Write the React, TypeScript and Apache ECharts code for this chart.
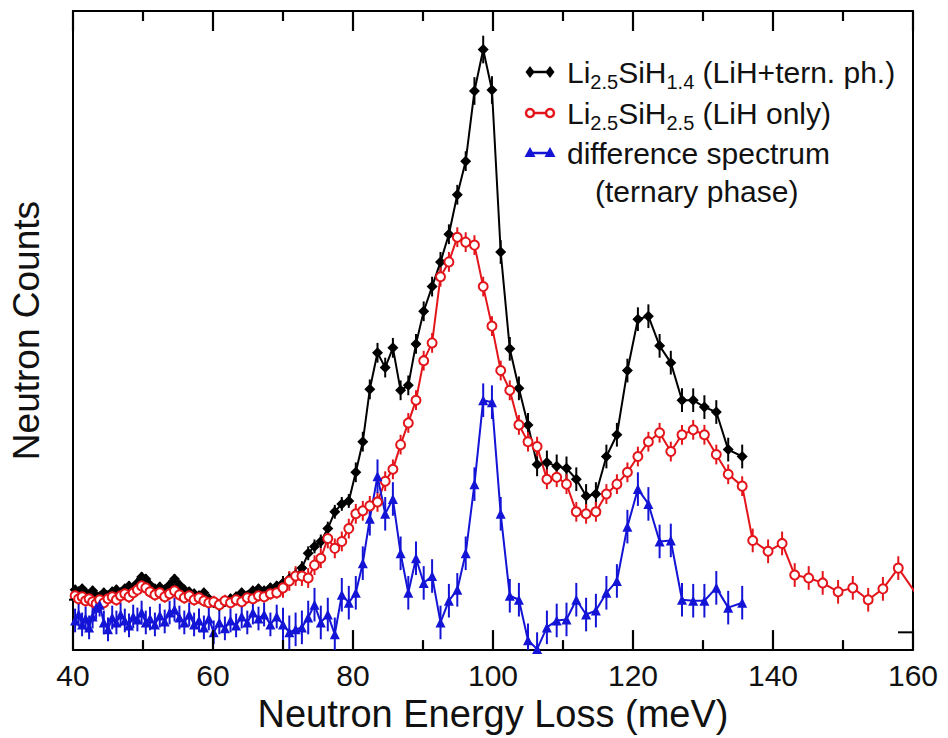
import React, { useEffect, useRef } from "react";
import * as echarts from "echarts";

// Energy transfer (meV) of each measured point
const energy = [
  40.3, 40.8, 41.3, 41.8, 42.3, 42.8, 43.3, 43.8, 44.4, 45.0,
  45.6, 46.2, 46.8, 47.4, 48.0, 48.6, 49.2, 49.8, 50.4, 51.0,
  51.7, 52.4, 53.1, 53.8, 54.5, 55.2, 55.9, 56.6, 57.3, 58.0,
  58.7, 59.4, 60.1, 60.9, 61.7, 62.5, 63.3, 64.1, 64.9, 65.7,
  66.5, 67.3, 68.2, 69.1, 70.0, 70.9, 71.8, 72.7, 73.6, 74.5,
  75.4, 76.4, 77.4, 78.4, 79.4, 80.4, 81.4, 82.4, 83.5, 84.6,
  85.7, 86.8, 87.9, 89.0, 90.1, 91.3, 92.5, 93.7, 94.9, 96.1,
  97.35, 98.6, 99.85, 101.1, 102.4, 103.7, 105.0, 106.3, 107.7, 109.1,
  110.5, 111.9, 113.3, 114.7, 116.2, 117.7, 119.2, 120.7, 122.2, 123.8,
  125.4, 127.0, 128.6, 130.2, 131.9, 133.6, 135.6,
  137.1, 139.3, 141.3, 143.1, 145.1, 147.1, 149.3, 151.4, 153.6, 155.7, 157.9, 162.0,
];

// Li2.5SiH1.4 (LiH + ternary phase)
const countsTernary = [
  43, 41, 44, 40, 38, 42, 37, 36, 40, 37,
  41, 43, 40, 44, 47, 45, 50, 56, 54, 48,
  44, 46, 43, 48, 54, 48, 43, 41, 39, 37,
  40, 34, 30, 27, 31, 34, 36, 40, 37, 42,
  44, 42, 45, 47, 50, 54, 58, 65, 80, 87,
  92, 105, 122, 130, 133, 162, 193, 246, 283, 268,
  288, 245, 250, 292, 325, 350, 375, 403, 443, 477,
  548, 590, 549, 385, 287, 247, 210, 170, 172, 168,
  166, 155, 138, 140, 178, 200, 265, 317, 320, 290,
  273, 235, 235, 228, 223, 185, 178,
];
const errTernary = [
  5, 5, 5, 5, 5, 5, 5, 5, 5, 5,
  5, 5, 5, 5, 5, 5, 5, 5, 5, 5,
  5, 5, 5, 5, 5, 5, 5, 5, 5, 5,
  5, 5, 5, 5, 5, 5, 5, 5, 5, 5,
  5, 5, 5, 5, 7, 7, 7, 7, 7, 7,
  7, 7, 7, 7, 7, 10, 10, 10, 10, 10,
  10, 10, 10, 10, 10, 10, 10, 10, 10, 10,
  14, 14, 14, 12, 12, 12, 12, 12, 12, 12,
  12, 12, 12, 12, 12, 12, 12, 12, 12, 12,
  12, 12, 12, 12, 12, 12, 12,
];

// Li2.5SiH2.5 (LiH only)
const countsLiH = [
  37, 34, 36, 32, 34, 31, 29, 33, 30, 34,
  36, 33, 37, 39, 36, 40, 43, 47, 45, 41,
  38, 40, 36, 39, 42, 38, 35, 37, 33, 35,
  32, 30, 31, 28, 32, 30, 33, 31, 35, 34,
  37, 36, 39, 40, 45, 52, 57, 57, 55, 68,
  75, 95, 85, 92, 105, 120, 123, 128, 132, 153,
  165, 190, 212, 235, 275, 293, 360, 375, 400, 395,
  392, 350, 310, 265, 245, 210, 193, 188, 155, 157,
  150, 122, 120, 122, 140, 150, 162, 178, 193, 202,
  183, 200, 205, 200, 180, 160, 148,
  93, 82, 90, 58, 55, 50, 41, 45, 33, 44, 65, 23,
];
const errLiH = [
  6, 6, 6, 6, 6, 6, 6, 6, 6, 6,
  6, 6, 6, 6, 6, 6, 6, 6, 6, 6,
  6, 6, 6, 6, 6, 6, 6, 6, 6, 6,
  6, 6, 6, 6, 6, 6, 6, 6, 6, 6,
  6, 6, 6, 6, 10, 10, 10, 10, 10, 10,
  10, 10, 10, 10, 10, 10, 10, 10, 10, 10,
  10, 10, 10, 10, 10, 10, 10, 10, 10, 10,
  10, 10, 10, 10, 10, 10, 10, 10, 10, 10,
  10, 10, 10, 10, 10, 10, 10, 10, 10, 10,
  10, 10, 10, 10, 10, 10, 10,
  12, 12, 12, 12, 12, 12, 12, 12, 12, 12, 12, 12,
];

// difference spectrum (ternary phase)
const countsDiff = [
  12, 18, 8, 14, 5, 16, 25, 28, 10, 3,
  15, 10, 18, 12, 7, 16, 13, 20, 10, 14,
  8, 17, 11, 20, 23, 15, 10, 18, 8, 12,
  5, 14, 0, 10, 4, 12, 7, 16, 10, 20,
  14, 18, 8, 16, 8, 0, 3, 5, 15, 28,
  10, 18, -2, 38, 30, 40, 70, 115, 158, 120,
  135, 80, 40, 75, 50, 57, 10, 32, 43, 80,
  150, 235, 233, 120, 37, 33, -8, -17, 5, 12,
  13, 33, 18, 22, 40, 52, 107, 145, 130, 92,
  93, 33, 32, 32, 45, 25, 30,
];
const errDiff = [
  12, 12, 12, 12, 12, 12, 12, 12, 12, 12,
  12, 12, 12, 12, 12, 12, 12, 12, 12, 12,
  12, 12, 12, 12, 12, 12, 12, 12, 12, 12,
  12, 12, 12, 12, 12, 12, 12, 12, 12, 12,
  12, 12, 12, 12, 17, 17, 17, 17, 17, 17,
  17, 17, 17, 17, 17, 17, 17, 17, 17, 17,
  17, 17, 17, 17, 17, 17, 17, 17, 17, 17,
  17, 17, 17, 17, 17, 17, 17, 17, 17, 17,
  17, 17, 17, 17, 17, 17, 17, 17, 17, 17,
  17, 17, 17, 17, 17, 17, 17,
];

const xTicks = [40, 60, 80, 100, 120, 140, 160];
const xMinorTicks = [50, 70, 90, 110, 130, 150];
const yRightTicks = [0];
const yLeftTicks = [33];
const X_MIN = 40;
const X_MAX = 160;
const Y_MIN = -18;
const Y_MAX = 629;

const FONT = "'Liberation Sans', Arial, Helvetica, sans-serif";
const BLACK = "#000000";
const RED = "#e3151a";
const BLUE = "#1414d6";

function errSeries(values: number[], errs: number[], color: string) {
  return {
    type: "custom",
    clip: true,
    silent: true,
    data: values.map((v, i) => [energy[i], v, errs[i]]),
    renderItem: (_p: any, api: any) => {
      const x = api.value(0);
      const y = api.value(1);
      const e = api.value(2);
      const a = api.coord([x, y - e]);
      const b = api.coord([x, y + e]);
      return {
        type: "line",
        shape: { x1: a[0], y1: a[1], x2: b[0], y2: b[1] },
        style: { stroke: color, lineWidth: 2 },
      };
    },
  };
}

// inward vertical ticks on one frame edge (edge = Y_MIN bottom, Y_MAX top), placed by the x scale
function xTickSeries(ticks: number[], edge: number, dy: number) {
  return {
    type: "custom",
    clip: false,
    silent: true,
    z: 5,
    data: ticks.map((t) => [t, edge]),
    renderItem: (_p: any, api: any) => {
      const p = api.coord([api.value(0), api.value(1)]);
      return {
        type: "line",
        shape: { x1: p[0], y1: p[1], x2: p[0], y2: p[1] + dy },
        style: { stroke: "#000", lineWidth: 2.2 },
      };
    },
  };
}

// short horizontal ticks on the left / right frame edges, placed by the y scale
function yTickSeries(ticks: number[], edge: number, dx: number) {
  return {
    type: "custom",
    clip: false,
    silent: true,
    z: 5,
    data: ticks.map((t) => [edge, t]),
    renderItem: (_p: any, api: any) => {
      const p = api.coord([api.value(0), api.value(1)]);
      return {
        type: "line",
        shape: { x1: p[0], y1: p[1], x2: p[0] + dx, y2: p[1] },
        style: { stroke: "#000", lineWidth: 2 },
      };
    },
  };
}

function lineSeries(values: number[], color: string, symbol: string, size: number, extra: any = {}) {
  return {
    type: "line",
    clip: true,
    data: values.map((v, i) => [energy[i], v]),
    symbol,
    symbolSize: size,
    showSymbol: true,
    lineStyle: { color, width: 2 },
    itemStyle: { color, ...extra },
  };
}

const legendRich = {
  a: { fontSize: 30, lineHeight: 40, verticalAlign: "middle", fontFamily: FONT, fill: "#111" },
  s: { fontSize: 20, lineHeight: 14, verticalAlign: "bottom", fontFamily: FONT, fill: "#111" },
};

function legendMarker(y: number, color: string, kind: string) {
  const x1 = 530;
  const x2 = 550;
  const els: any[] = [
    { type: "line", shape: { x1, y1: y, x2, y2: y }, style: { stroke: color, lineWidth: 2.5 } },
  ];
  [x1, x2].forEach((cx) => {
    if (kind === "diamond") {
      els.push({
        type: "polygon",
        shape: { points: [[cx, y - 6], [cx + 4.5, y], [cx, y + 6], [cx - 4.5, y]] },
        style: { fill: color },
      });
    } else if (kind === "circle") {
      els.push({ type: "circle", shape: { cx, cy: y, r: 4 }, style: { fill: "#fff", stroke: color, lineWidth: 2.5 } });
    } else {
      els.push({
        type: "polygon",
        shape: { points: [[cx, y - 6], [cx + 5.5, y + 4], [cx - 5.5, y + 4]] },
        style: { fill: color },
      });
    }
  });
  return els;
}

export default function App() {
  const ref = useRef<HTMLDivElement>(null);
  useEffect(() => {
    if (!ref.current) return;
    const chart = echarts.init(ref.current, null, { renderer: "svg" });
    const option: any = {
      animation: false,
      grid: { left: 73, right: 35, top: 11, bottom: 80 },
      xAxis: [
        {
          type: "value",
          min: X_MIN,
          max: X_MAX,
          interval: 20,
          position: "bottom",
          name: "Neutron Energy Loss (meV)",
          nameLocation: "middle",
          nameGap: 37,
          nameTextStyle: { fontSize: 38, fontFamily: FONT, color: "#111" },
          axisLine: { show: true, onZero: false, lineStyle: { color: "#000", width: 2 } },
          axisTick: { show: false },
          axisLabel: { show: true, fontSize: 30, fontFamily: FONT, color: "#111", margin: 10 },
          splitLine: { show: false },
        },
        {
          type: "value",
          min: X_MIN,
          max: X_MAX,
          interval: 20,
          position: "top",
          axisLine: { show: true, onZero: false, lineStyle: { color: "#000", width: 2 } },
          axisTick: { show: false },
          axisLabel: { show: false },
          splitLine: { show: false },
        },
      ],
      yAxis: [
        {
          type: "value",
          min: Y_MIN,
          max: Y_MAX,
          position: "left",
          name: "Neutron Counts",
          nameLocation: "middle",
          nameGap: 28,
          nameTextStyle: { fontSize: 37, fontFamily: FONT, color: "#111" },
          axisLine: { show: true, onZero: false, lineStyle: { color: "#000", width: 2 } },
          axisTick: { show: false },
          axisLabel: { show: false },
          splitLine: { show: false },
        },
        {
          type: "value",
          min: Y_MIN,
          max: Y_MAX,
          position: "right",
          axisLine: { show: true, onZero: false, lineStyle: { color: "#000", width: 2 } },
          axisTick: { show: false },
          axisLabel: { show: false },
          splitLine: { show: false },
        },
      ],
      series: [
        xTickSeries(xTicks, Y_MIN, -20),
        xTickSeries(xMinorTicks, Y_MIN, -10),
        xTickSeries(xTicks, Y_MAX, 20),
        xTickSeries(xMinorTicks, Y_MAX, 10),
        yTickSeries(yRightTicks, X_MAX, -15),
        yTickSeries(yLeftTicks, X_MIN, -4),
        lineSeries(countsTernary, BLACK, "diamond", 11),
        errSeries(countsTernary, errTernary, BLACK),
        lineSeries(countsLiH, RED, "emptyCircle", 9, { borderWidth: 2.5 }),
        errSeries(countsLiH, errLiH, RED),
        lineSeries(countsDiff, BLUE, "triangle", 10),
        errSeries(countsDiff, errDiff, BLUE),
      ],
      graphic: [
        ...legendMarker(72, BLACK, "diamond"),
        ...legendMarker(113, RED, "circle"),
        ...legendMarker(153, BLUE, "triangle"),
        {
          type: "text",
          x: 567,
          y: 72,
          style: {
            text: "{a|Li}{s|2.5}{a|SiH}{s|1.4}{a| (LiH+tern. ph.)}",
            rich: legendRich,
            verticalAlign: "middle",
            align: "left",
          },
        },
        {
          type: "text",
          x: 567,
          y: 113,
          style: {
            text: "{a|Li}{s|2.5}{a|SiH}{s|2.5}{a| (LiH only)}",
            rich: legendRich,
            verticalAlign: "middle",
            align: "left",
          },
        },
        {
          type: "text",
          x: 567,
          y: 153,
          style: { text: "difference spectrum", font: `30px ${FONT}`, fill: "#111", verticalAlign: "middle", align: "left" },
        },
        {
          type: "text",
          x: 595,
          y: 191,
          style: { text: "(ternary phase)", font: `30px ${FONT}`, fill: "#111", verticalAlign: "middle", align: "left" },
        },
      ],
    };
    chart.setOption(option);
    return () => chart.dispose();
  }, []);
  return (
    <div
      ref={ref}
      style={{ position: "absolute", left: 0, top: 0, width: 948, height: 738, background: "#fff" }}
    />
  );
}
